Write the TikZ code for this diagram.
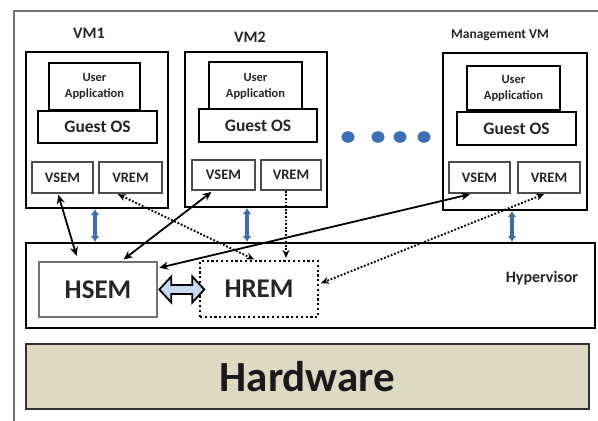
\documentclass[tikz,border=0pt]{standalone}
\usepackage{fontspec}
\setmainfont{Carlito}
\usetikzlibrary{arrows.meta,calc}
\definecolor{hwfill}{HTML}{DDD9C3}
\definecolor{hvblue}{HTML}{3E6DAD}
\definecolor{dotblue}{HTML}{3F6FB4}
\definecolor{dblfill}{HTML}{C6D9F1}
\begin{document}
\begin{tikzpicture}[x=1pt,y=-1pt,
  vmbox/.style={draw=black, line width=2.2pt, fill=white, inner sep=0pt},
  uabox/.style={draw=black, line width=2.2pt, fill=white, inner sep=0pt, align=center,
     font=\bfseries\fontsize{12.5}{16}\selectfont, text=black!85},
  osbox/.style={draw=black, line width=2.2pt, fill=white, inner sep=0pt,
     font=\bfseries\fontsize{17.5}{20}\selectfont, text=black!85},
  embox/.style={draw=black!70, line width=1.5pt, fill=white, inner sep=0pt,
     font=\bfseries\fontsize{14.5}{16}\selectfont, text=black!85},
  vmlabel/.style={font=\bfseries\fontsize{16}{18}\selectfont, inner sep=0pt, text=black!85},
  hbox/.style={inner sep=0pt, fill=white, font=\bfseries\fontsize{27}{30}\selectfont, text=black!85},
  hvarrow/.style={hvblue, line width=3.4pt, {Latex[length=6pt,width=9pt]}-{Latex[length=6pt,width=9pt]}},
  solidconn/.style={black, line width=1.8pt, {Stealth[length=9pt,width=8pt]}-{Stealth[length=9pt,width=8pt]}},
  dotconn/.style={black, line width=1.9pt, dash pattern=on 1.8pt off 1.8pt},
]
\useasboundingbox (0,0) rectangle (598,421);
% outer frame (partial)
\draw[black!55, line width=1.5pt] (14,421) -- (14,11) -- (598,11);

% VM1
\node[vmlabel] (l1) at (89,33) {VM1};
\node[vmbox, minimum width=142, minimum height=156] (vm1) at (97,130) {};
\node[uabox, minimum width=91, minimum height=47] (ua1) at (94.5,86.5) {User\\Application};
\node[osbox, minimum width=119, minimum height=32] (os1) at (97.5,127) {Guest OS};
\node[embox, minimum width=61, minimum height=31] (vs1) at (62.5,177.5) {VSEM};
\node[embox, minimum width=63, minimum height=31] (vr1) at (130.5,177.5) {VREM};

% VM2
\node[vmlabel] (l2) at (250,37) {VM2};
\node[vmbox, minimum width=142, minimum height=155] (vm2) at (256,129.5) {};
\node[uabox, minimum width=93, minimum height=48] (ua2) at (255.5,86) {User\\Application};
\node[osbox, minimum width=118, minimum height=33] (os2) at (258,125.5) {Guest OS};
\node[embox, minimum width=63, minimum height=30] (vs2) at (223.5,175) {VSEM};
\node[embox, minimum width=60, minimum height=30] (vr2) at (291,175) {VREM};

% Management VM
\node[font=\bfseries\fontsize{13.5}{15}\selectfont, inner sep=0pt, text=black!85] (lm) at (500,35) {Management VM};
\node[vmbox, minimum width=144, minimum height=157] (vmm) at (515,131.5) {};
\node[uabox, minimum width=93, minimum height=44] (uam) at (513.5,88) {User\\Application};
\node[osbox, minimum width=119, minimum height=33] (osm) at (516.5,128.5) {Guest OS};
\node[embox, minimum width=61, minimum height=31] (vsm) at (479.5,177.5) {VSEM};
\node[embox, minimum width=62, minimum height=31] (vrm) at (549,177.5) {VREM};

% dots
\foreach \xx in {348,378,400,424} \fill[dotblue] (\xx,137) ellipse [x radius=6.5, y radius=5.8];

% Hypervisor
\node[draw=black, line width=2.2pt, fill=white, inner sep=0pt, minimum width=569, minimum height=85] (hyp) at (310.5,285.5) {};
\node[font=\bfseries\fontsize{16}{18}\selectfont, inner sep=0pt, text=black!85] (hl) at (542,278) {Hypervisor};
\node[hbox, draw=black!55, line width=2.6pt, minimum width=118, minimum height=55] (hsem) at (98,289.5) {HSEM};
\node[hbox, draw=black, line width=2.2pt, dash pattern=on 2.2pt off 2.6pt, minimum width=118, minimum height=56] (hrem) at (259,289) {HREM};

% Hardware
\node[draw=black!80, line width=2.6pt, fill=hwfill, inner sep=0pt, minimum width=563, minimum height=65,
      font=\bfseries\fontsize{43}{46}\selectfont, text=black!90] (hw) at (307.5,376.5) {Hardware};

% block double arrow between HSEM and HREM
\draw[black, line width=1.8pt, fill=dblfill, line join=miter]
  (hsem.east) ++(1,0) -- ++(12,-13) -- ++(0,8.5) -- ++(21,0) -- ++(0,-8.5) -- ++(12,13)
  -- ++(-12,13) -- ++(0,-8.5) -- ++(-21,0) -- ++(0,8.5) -- cycle;

% blue vertical arrows
\draw[hvarrow] (95,0 |- vm1.south) -- (95,0 |- hyp.north);
\draw[hvarrow] (247,0 |- vm2.south) -- (247,0 |- hyp.north);
\draw[hvarrow] (512,0 |- vmm.south) -- (512,0 |- hyp.north);

% solid connectors VSEM <-> HSEM
\draw[solidconn, shorten >=5pt, shorten <=1pt] (58,0 |- vs1.south) -- (78,0 |- hsem.north);
\draw[solidconn, shorten >=2pt, shorten <=2pt] (213,0 |- vs2.south) -- (122,0 |- hsem.north);
\draw[solidconn, shorten >=1pt, shorten <=2pt] (472,0 |- vsm.south) -- (hsem.east |- 0,268);

% dotted connectors VREM -> HREM
\draw[dotconn, arrows={Stealth[length=8pt,width=7pt]-Stealth[length=8pt,width=7pt]}, shorten <=1pt, shorten >=1pt]
  (117,0 |- vr1.south) -- (255,0 |- hrem.north);
\draw[dotconn, arrows={-Stealth[length=8pt,width=7pt]}, shorten >=2pt]
  (286,0 |- vr2.south) -- (286,0 |- hrem.north);
\draw[dotconn, arrows={Stealth[length=8pt,width=7pt]-Stealth[length=8pt,width=7pt]}, shorten <=1pt, shorten >=2pt]
  (545,0 |- vrm.south) -- (hrem.east |- 0,284);
\end{tikzpicture}
\end{document}
